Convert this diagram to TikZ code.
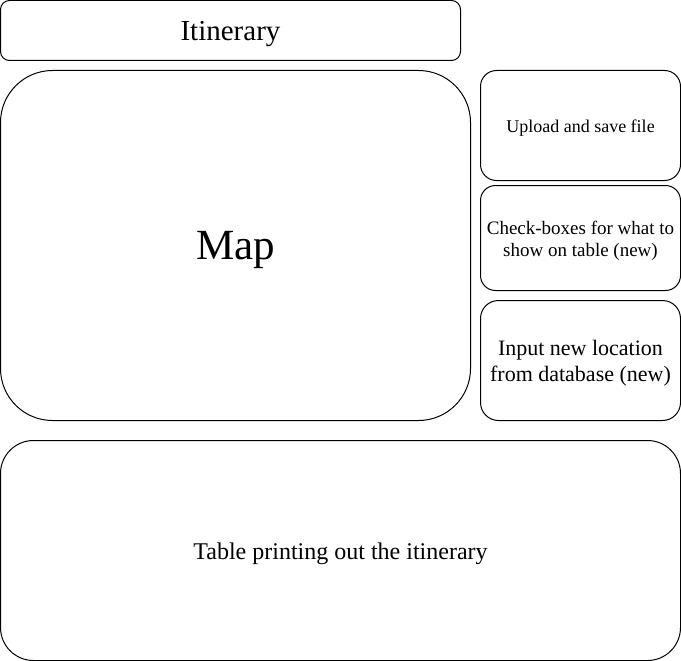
\documentclass[tikz,border=0pt]{standalone}
\usepackage{fontspec}
\setmainfont{Liberation Serif}
\usetikzlibrary{positioning}

\tikzset{
  panel/.style={draw, line width=1pt, rectangle, inner sep=0pt},
}

\begin{document}
\begin{tikzpicture}[x=1pt, y=-1pt]
\useasboundingbox (0,0) rectangle (681,661);
% top bar
\node[panel, rounded corners=9pt, minimum width=460pt, minimum height=60pt,
  label={[yshift=-3.5pt, font=\fontsize{29}{34}\selectfont]center:Itinerary}] (itin) at (230.5,30.5) {};
% map area
\node[panel, rounded corners=52pt, minimum width=470pt, minimum height=350pt,
  label={[yshift=-4pt, font=\fontsize{43}{50}\selectfont]center:Map}] (map) at (235.5,245.5) {};
% side controls
\node[panel, rounded corners=16pt, minimum width=200pt, minimum height=110pt,
  label={[yshift=-2.5pt, font=\fontsize{18}{22}\selectfont]center:Upload and save file}] (upload) at (580.5,125.5) {};
\node[panel, rounded corners=15pt, minimum width=200pt, minimum height=105pt,
  label={[yshift=-2.5pt, align=center, font=\fontsize{19}{22}\selectfont]center:Check-boxes for what to\\show on table (new)}] (checks) at (580.5,238) {};
\node[panel, rounded corners=18pt, minimum width=200pt, minimum height=120pt,
  label={[yshift=-3pt, align=center, font=\fontsize{22}{26}\selectfont]center:Input new location\\from database (new)}] (input) at (580.5,360.5) {};
% bottom table
\node[panel, rounded corners=33pt, minimum width=680pt, minimum height=220pt,
  label={[yshift=-3pt, font=\fontsize{24}{28}\selectfont]center:Table printing out the itinerary}] (table) at (340.5,550.5) {};
\end{tikzpicture}
\end{document}
